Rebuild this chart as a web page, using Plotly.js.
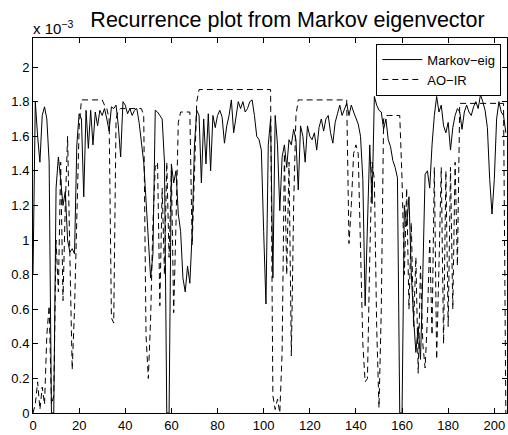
<!DOCTYPE html>
<html><head><meta charset="utf-8">
<script src="https://cdn.plot.ly/plotly-3.0.1.min.js"></script>
<style>html,body{margin:0;padding:0;background:#fff;} #chart{width:508px;height:435px;}</style>
</head><body><div id="chart"></div>
<script>
// Chart text
const titleText = 'Recurrence plot from Markov eigenvector';
const seriesNames = ['Markov\u2212eig', 'AO\u2212IR'];
const exponentLabel = 'x 10<sup>\u22123</sup>';

// Values in units of 10^-3, one per sample index starting at 0
const markovEig = [
  0.80,1.80,1.60,1.45,1.72,1.77,1.70,1.45,0.00,0.00,
  1.30,1.48,1.35,1.20,1.28,1.00,0.93,0.95,0.92,1.55,
  1.73,1.70,1.25,1.75,1.53,1.75,1.55,1.74,1.66,1.75,
  1.72,1.76,1.70,1.63,1.77,1.76,1.78,1.66,1.48,1.80,
  1.78,1.73,1.76,1.72,1.75,1.76,1.68,1.58,1.45,1.23,
  0.98,0.78,0.92,1.75,1.74,1.72,1.70,1.45,0.00,0.00,
  1.44,1.33,1.40,1.15,1.05,0.78,0.70,0.85,0.75,1.04,
  1.55,1.75,1.72,1.33,1.70,1.44,1.73,1.40,1.72,1.65,
  1.72,1.75,1.71,1.56,1.66,1.72,1.81,1.62,1.70,1.80,
  1.76,1.80,1.74,1.76,1.80,1.81,1.72,1.60,1.58,1.52,
  1.05,0.63,1.55,1.70,0.78,1.72,1.55,1.17,1.48,1.55,
  1.42,1.58,1.55,1.64,1.58,1.29,1.66,1.60,1.45,1.66,
  1.60,1.58,1.62,1.52,1.65,1.70,1.63,1.70,1.72,1.62,
  1.56,1.68,1.73,1.78,1.72,1.76,1.79,1.72,1.78,1.74,
  1.71,1.67,1.60,1.35,0.62,1.15,1.55,1.21,1.83,1.78,
  1.75,1.74,1.64,1.70,1.58,1.54,1.46,1.42,1.36,0.00,
  0.00,1.20,1.08,1.25,0.81,0.55,0.35,0.50,0.31,0.80,
  1.38,1.40,1.30,1.55,1.72,1.83,1.74,1.78,1.66,1.62,
  1.68,1.52,1.65,1.72,1.76,1.74,1.64,1.74,1.78,1.74,
  1.72,1.77,1.80,1.76,1.84,1.80,1.75,1.65,1.35,1.15,
  1.35,1.70,1.80,1.74,1.72,1.62
];
const aoIR = [
  0.00,0.05,0.18,0.02,0.15,0.05,0.45,0.62,0.05,0.10,
  1.00,0.70,1.45,0.65,1.20,1.60,0.90,0.25,0.60,1.20,
  1.65,1.81,1.81,1.81,1.81,1.81,1.81,1.81,1.81,1.81,
  1.81,1.78,1.76,1.70,0.55,0.52,1.70,1.75,1.76,1.76,
  1.76,1.76,1.76,1.76,1.76,1.76,1.76,1.76,1.72,0.45,
  0.20,0.55,1.10,1.42,1.45,0.62,1.30,0.80,1.45,0.90,
  1.40,0.58,1.10,1.68,1.74,1.74,1.74,1.74,1.74,0.97,
  1.40,1.80,1.87,1.87,1.87,1.87,1.87,1.87,1.87,1.87,
  1.87,1.87,1.87,1.87,1.87,1.87,1.87,1.87,1.87,1.87,
  1.87,1.87,1.87,1.87,1.87,1.87,1.87,1.87,1.87,1.87,
  1.87,1.87,1.87,1.87,0.10,0.02,0.08,0.00,0.35,1.50,
  0.80,1.45,0.33,1.20,1.72,1.81,1.81,1.81,1.81,1.81,
  1.81,1.81,1.81,1.81,1.81,1.81,1.81,1.81,1.81,1.81,
  1.81,1.81,1.81,1.81,1.81,1.81,1.81,0.98,1.20,1.50,
  1.55,1.50,1.00,0.40,0.18,0.20,0.90,1.45,1.35,0.50,
  0.03,0.60,1.70,1.72,1.72,1.72,1.72,1.72,1.72,1.72,
  1.35,0.80,1.30,0.60,1.10,0.50,0.90,0.23,0.85,0.40,
  0.26,0.55,1.00,0.45,1.42,0.31,0.85,1.42,0.40,1.40,
  0.50,1.42,0.60,1.45,0.85,1.79,1.79,1.79,1.79,1.79,
  1.79,1.79,1.79,1.79,1.79,1.79,1.79,1.79,1.79,1.79,
  1.79,1.79,1.79,1.79,1.79,0.00
];

// Axis ticks
const xTicks = [0,20,40,60,80,100,120,140,160,180,200];
const yTicks = [0,0.2,0.4,0.6,0.8,1,1.2,1.4,1.6,1.8,2];
const yTickLabels = ['0','0.2','0.4','0.6','0.8','1','1.2','1.4','1.6','1.8','2'];

const font = 'Liberation Sans, Arial, Helvetica, sans-serif';

const traces = [
  {type:'scatter', mode:'lines', name:seriesNames[0], y:markovEig, x0:0, dx:1,
   line:{color:'#000', width:1}},
  {type:'scatter', mode:'lines', name:seriesNames[1], y:aoIR, x0:0, dx:1,
   line:{color:'#000', width:1, dash:'6px,4px'}}
];

const axisCommon = {
  showline:true, linecolor:'#000', linewidth:1, mirror:'ticks',
  ticks:'inside', ticklen:5, tickwidth:1, tickcolor:'#000',
  showgrid:false, zeroline:false, tickfont:{family:font, size:13, color:'#000'}
};

const layout = {
  width:508, height:435,
  margin:{l:33, r:1, t:38, b:22, pad:0},
  paper_bgcolor:'#fff', plot_bgcolor:'#fff',
  font:{family:font, color:'#000'},
  title:{text:titleText, font:{family:font, size:21.5, color:'#000'},
         x:0.537, xref:'paper', xanchor:'center', y:1-19/435, yref:'container', yanchor:'middle'},
  xaxis:Object.assign({}, axisCommon, {range:[0,205.5], tickmode:'array', tickvals:xTicks}),
  yaxis:Object.assign({}, axisCommon, {range:[0,2.168], tickmode:'array', tickvals:yTicks, ticktext:yTickLabels}),
  showlegend:true,
  legend:{x:0.988, xanchor:'right', y:0.985, yanchor:'top', bgcolor:'#fff',
          bordercolor:'#000', borderwidth:1, font:{family:font, size:13, color:'#000'},
          tracegroupgap:0, itemwidth:40},
  annotations:[{text:exponentLabel, xref:'paper', yref:'paper', x:0, y:1, xanchor:'left', yanchor:'bottom',
                showarrow:false, font:{family:font, size:15, color:'#000'}, xshift:-2, yshift:-1}]
};

Plotly.newPlot('chart', traces, layout, {staticPlot:true, displayModeBar:false});
</script>
</body></html>
